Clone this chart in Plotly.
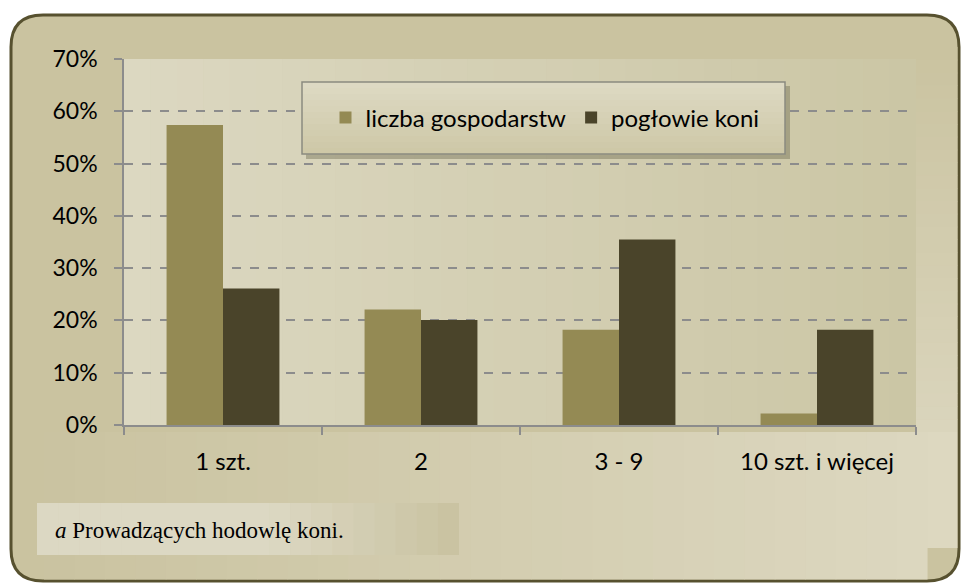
import plotly.graph_objects as go

categories = ["1 szt.", "2", "3 - 9", "10 szt. i więcej"]
liczba_gospodarstw = [57.4, 22.1, 18.2, 2.2]
poglowie_koni = [26.1, 20.1, 35.5, 18.2]
series_names = ["liczba gospodarstw", "pogłowie koni"]
footnote = "<i>a</i> Prowadzących hodowlę koni."

W, H = 962, 584
L, R, T, B = 124, 916, 59, 425  # plot area in pixels


def px(x):
    return (x - L) / (R - L)


def py(y):
    return (B - y) / (B - T)


def mix(c1, c2, t):
    a = [int(c1[i:i + 2], 16) for i in (1, 3, 5)]
    b = [int(c2[i:i + 2], 16) for i in (1, 3, 5)]
    return "#" + "".join(f"{round(a[k] + (b[k] - a[k]) * t):02x}" for k in range(3))


fig = go.Figure()
fig.add_bar(x=categories, y=liczba_gospodarstw, name=series_names[0],
            marker=dict(color="#948A54", line=dict(width=0)))
fig.add_bar(x=categories, y=poglowie_koni, name=series_names[1],
            marker=dict(color="#4A442A", line=dict(width=0)))


def rounded_rect(x0, y0, x1, y1, r):
    X0, X1 = px(x0), px(x1)
    Y0, Y1 = py(y0), py(y1)
    rx = r / (R - L)
    ry = r / (B - T)
    return (f"M {X0+rx},{Y0} L {X1-rx},{Y0} Q {X1},{Y0} {X1},{Y0-ry} "
            f"L {X1},{Y1+ry} Q {X1},{Y1} {X1-rx},{Y1} L {X0+rx},{Y1} "
            f"Q {X0},{Y1} {X0},{Y1+ry} L {X0},{Y0-ry} Q {X0},{Y0} {X0+rx},{Y0} Z")


shapes = []
FRAME = "#cac3a0"
LIGHT = "#ddd8c1"
FX1 = 959
# outer frame
shapes.append(dict(type="path", xref="paper", yref="paper", layer="below",
                   path=rounded_rect(11, 15, FX1, 581, 32),
                   fillcolor=FRAME, line=dict(color="#57512f", width=3)))
n = 30
# right column gradient (top tan -> bottom light)
for i in range(n):
    ya = 47 + (432 - 47) * i / n
    yb = 47 + (432 - 47) * (i + 1) / n + 0.5
    shapes.append(dict(type="rect", xref="paper", yref="paper", layer="below",
                       x0=px(R), x1=px(FX1 - 1.5), y0=py(ya), y1=py(min(yb, 432)),
                       fillcolor=mix(FRAME, LIGHT, 0.85 * (i + 0.5) / n), line=dict(width=0)))
# bottom band gradient (left tan -> right light)
x_start, x_end = 44, FX1 - 1.5
for i in range(n):
    xa = x_start + (x_end - x_start) * i / n
    xb = min(x_start + (x_end - x_start) * (i + 1) / n + 0.5, x_end)
    ybot = 579.5 if xb <= 928 else 548
    shapes.append(dict(type="rect", xref="paper", yref="paper", layer="below",
                       x0=px(xa), x1=px(xb), y0=py(432), y1=py(ybot),
                       fillcolor=mix(FRAME, LIGHT, (i + 0.5) / n), line=dict(width=0)))
# plot area background gradient (left light -> right darker)
for i in range(n):
    xa = L + (R - L) * i / n
    xb = L + (R - L) * (i + 1) / n + 0.5
    shapes.append(dict(type="rect", xref="paper", yref="paper", layer="below",
                       x0=px(xa), x1=px(min(xb, R)), y0=0, y1=1,
                       fillcolor=mix("#dcd8c1", "#cbc6a5", (i + 0.5) / n), line=dict(width=0)))
# legend shadow and box
shapes.append(dict(type="rect", xref="paper", yref="paper", layer="above",
                   x0=px(306), x1=px(790), y0=py(159), y1=py(86),
                   fillcolor="rgba(90,85,60,0.35)", line=dict(width=0)))
for i in range(12):
    ya = 82 + (154 - 82) * i / 12
    yb = 82 + (154 - 82) * (i + 1) / 12 + 0.3
    shapes.append(dict(type="rect", xref="paper", yref="paper", layer="above",
                       x0=px(302), x1=px(785), y0=py(yb), y1=py(ya),
                       fillcolor=mix("#dedac4", "#cdc7a6", (i + 0.5) / 12), line=dict(width=0)))
shapes.append(dict(type="rect", xref="paper", yref="paper", layer="above",
                   x0=px(302), x1=px(785), y0=py(154), y1=py(82),
                   fillcolor="rgba(0,0,0,0)", line=dict(color="#8a8a80", width=1.5)))
# footnote box
m = 20
for i in range(m):
    xa = 37 + (459 - 37) * i / m
    xb = 37 + (459 - 37) * (i + 1) / m + 0.5
    t = max(0.0, ((i + 0.5) / m - 0.55) / 0.45)
    shapes.append(dict(type="rect", xref="paper", yref="paper", layer="above",
                       x0=px(xa), x1=px(min(xb, 459)), y0=py(555), y1=py(503),
                       fillcolor=mix("#dcd8c3", "#c9c2a0", t), line=dict(width=0)))

fig.update_layout(
    width=W, height=H,
    margin=dict(l=L, r=W - R, t=T, b=H - B, pad=0),
    paper_bgcolor="white",
    plot_bgcolor="rgba(0,0,0,0)",
    barmode="group",
    bargap=0.43,
    bargroupgap=0,
    font=dict(family="Lato, Open Sans, sans-serif", color="#000000"),
    shapes=shapes,
    showlegend=True,
    legend=dict(orientation="h", x=px(545), y=py(118), xanchor="center", yanchor="middle",
                bgcolor="rgba(0,0,0,0)", borderwidth=0,
                font=dict(size=24, family="Lato, sans-serif", color="#000"),
                traceorder="normal"),
    annotations=[dict(text=footnote, xref="paper", yref="paper",
                      x=px(53), y=py(530), xanchor="left", yanchor="middle",
                      showarrow=False,
                      font=dict(family="Liberation Serif, Times New Roman, serif", size=23,
                                color="#000"))],
)

fig.update_yaxes(
    range=[0, 70], dtick=10, ticksuffix="%",
    showgrid=True, gridcolor="#8c8c8c", gridwidth=1.5, griddash="dash",
    showline=True, linecolor="#8c8c8c", linewidth=1.5,
    ticks="outside", ticklen=8, tickcolor="#8c8c8c", tickwidth=1.5,
    tickfont=dict(size=23, family="Lato, sans-serif", color="#000"),
    zeroline=False, ticklabelstandoff=12,
)
fig.update_xaxes(
    showline=True, linecolor="#8c8c8c", linewidth=1.5,
    ticks="outside", ticklen=8, tickcolor="#8c8c8c", tickwidth=1.5,
    tickson="boundaries",
    tickfont=dict(size=24, family="Lato, sans-serif", color="#000"),
    ticklabelstandoff=14,
)

fig.write_html("out.html", config={"displayModeBar": False},
               post_script="document.body.style.margin='0';")
